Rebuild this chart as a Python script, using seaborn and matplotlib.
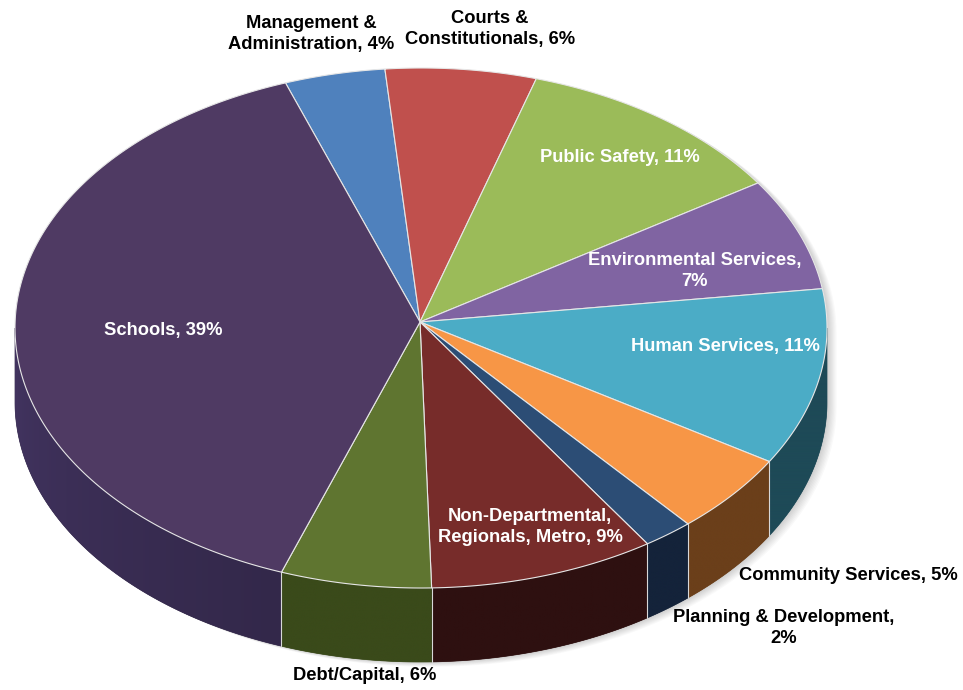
import numpy as np
import pandas as pd
import matplotlib
matplotlib.use("Agg")
import matplotlib.pyplot as plt
from matplotlib.patches import Polygon
import matplotlib.colors as mcolors
import seaborn as sns

# ---- data -------------------------------------------------------------
categories = [
    "Management &\nAdministration",
    "Courts &\nConstitutionals",
    "Public Safety",
    "Environmental Services",
    "Human Services",
    "Community Services",
    "Planning & Development",
    "Non-Departmental,\nRegionals, Metro",
    "Debt/Capital",
    "Schools",
]
shares = [4, 6, 11, 7, 11, 5, 2, 9, 6, 39]
separators = [", ", ", ", ", ", ",\n", ", ", ", ", ",\n", ", ", ", ", ", "]

# ---- styles -----------------------------------------------------------
top_colors = ["#4F81BD", "#C0504D", "#9BBB59", "#8064A2", "#4BACC6",
              "#F79646", "#2C4D75", "#772C2A", "#5F7530", "#4F3A63"]
side_colors = ["#2B4668", "#6A2B29", "#556832", "#45365A", "#1E4A57",
               "#6B3F1A", "#14233A", "#2E1010", "#3A4A1A", "#33284A"]
text_colors = ["black", "black", "white", "white", "white",
               "black", "black", "white", "black", "white"]
label_xy = [(311, 34), (490, 29), (620, 157), (695, 271), (725, 347),
            (848, 576), (784, 628), (530, 527), (365, 675), (163, 331)]

# pie geometry (pixel space)
CX, CY = 421.0, 328.0
RX, RY = 406.0, 260.0
APEX = (420.0, 322.0)
DEPTH = 74.0
START = 109.5

df = pd.DataFrame({"category": categories, "share": shares, "sep": separators})
df["label"] = df["category"] + df["sep"] + df["share"].astype(str) + "%"
df["t0"] = START - 3.6 * (df["share"].cumsum() - df["share"])
df["t1"] = df["t0"] - 3.6 * df["share"]

sns.set_theme(style="white")
plt.rcParams["font.family"] = ["Liberation Sans", "DejaVu Sans"]

fig = plt.figure(figsize=(9.63, 6.9), dpi=100)
ax = fig.add_axes([0, 0, 1, 1])
ax.set_xlim(0, 963)
ax.set_ylim(690, 0)
ax.axis("off")


def rim(t_deg, dy=0.0):
    t = np.radians(t_deg)
    return CX + RX * np.cos(t), CY - RY * np.sin(t) + dy


# soft shadow behind the disc
tt_back = np.linspace(0, 180, 120)
tt_front = np.linspace(180, 360, 120)
bx, by = rim(tt_back)
fx, fy = rim(tt_front, DEPTH)
outline = np.column_stack([np.r_[bx, fx], np.r_[by, fy]])
for k in range(1, 9):
    ax.add_patch(Polygon(outline + [k * 1.2, k * 0.6], closed=True,
                         facecolor="black", edgecolor="none",
                         alpha=0.025, zorder=0))

# side walls of the front-facing arcs, with a light-to-dark horizontal ramp
for i, row in df.iterrows():
    a = max(row.t1, -180.0)
    b = min(row.t0, 0.0)
    if a >= b:
        continue
    ts = np.linspace(a, b, 200)
    xs, ys = rim(ts)
    pts = np.column_stack([np.r_[xs, xs[::-1]], np.r_[ys, ys[::-1] + DEPTH]])
    wall = Polygon(pts, closed=True, facecolor=side_colors[i],
                   edgecolor=side_colors[i], linewidth=0.5, zorder=1)
    ax.add_patch(wall)
    x_lo, x_hi = xs.min() - 1, xs.max() + 1
    y_lo, y_hi = ys.min() - 1, ys.max() + DEPTH + 1
    cols = np.linspace(x_lo, x_hi, 300)
    tcol = -np.degrees(np.arccos(np.clip((cols - CX) / RX, -1, 1)))
    lift = 1 + 0.3 * np.clip((-110 - tcol) / 70, 0, 1)
    base = np.array(mcolors.to_rgb(side_colors[i]))
    img = np.clip(base[None, None, :] * lift[None, :, None], 0, 1)
    im = ax.imshow(img, extent=(x_lo, x_hi, y_hi, y_lo), aspect="auto",
                   interpolation="bilinear", zorder=1.5)
    im.set_clip_path(wall)
ax.set_xlim(0, 963)
ax.set_ylim(690, 0)

# light seams between side walls
for t in df["t1"]:
    tn = ((t + 180) % 360) - 180
    if -180 < tn < 0:
        x, y = rim(tn)
        ax.plot([x, x], [y, y + DEPTH], color="#d8d8d8", lw=0.8, zorder=2)

# top faces
for i, row in df.iterrows():
    ts = np.linspace(row.t0, row.t1, 200)
    xs, ys = rim(ts)
    pts = np.column_stack([np.r_[APEX[0], xs], np.r_[APEX[1], ys]])
    ax.add_patch(Polygon(pts, closed=True, facecolor=top_colors[i],
                         edgecolor="#e6e6e6", linewidth=0.8, zorder=3))

# labels
for i, row in df.iterrows():
    x, y = label_xy[i]
    ax.text(x, y, row.label, ha="center", va="center", multialignment="center",
            fontsize=13.2, fontweight="bold", color=text_colors[i],
            linespacing=1.35, zorder=5)

fig.savefig("out.png", dpi=100, facecolor="white")
